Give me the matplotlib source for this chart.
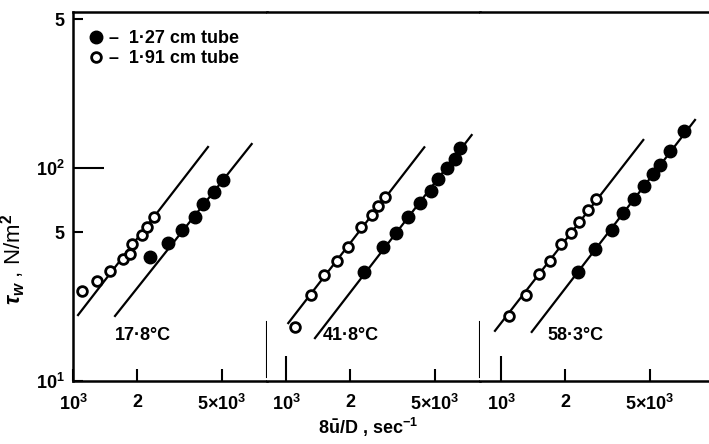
import matplotlib
matplotlib.use("Agg")
import matplotlib.pyplot as plt
from matplotlib.ticker import FixedLocator, FixedFormatter, NullLocator

plt.rcParams["font.family"] = ["Liberation Sans", "DejaVu Sans"]
plt.rcParams["font.weight"] = "bold"
plt.rcParams["mathtext.fontset"] = "custom"
plt.rcParams["mathtext.rm"] = "Liberation Sans:bold"
plt.rcParams["mathtext.it"] = "Liberation Sans:italic:bold"
plt.rcParams["mathtext.bf"] = "Liberation Sans:bold"

TEMPS = ["17·8°C", "41·8°C", "58·3°C"]

# 1.91 cm tube (open circles), one list per temperature
open_x = [
    [1105, 1290, 1490, 1710, 1850, 1900, 2110, 2230, 2410],
    [1100, 1310, 1510, 1730, 1960, 2240, 2540, 2700, 2920],
    [1094, 1310, 1500, 1700, 1910, 2120, 2330, 2570, 2790],
]
open_y = [
    [26.5, 29.5, 33.0, 37.2, 39.5, 44.2, 48.7, 52.8, 58.7],
    [18.0, 25.3, 31.5, 36.6, 42.7, 52.7, 60.2, 66.3, 73.3],
    [20.2, 25.3, 31.7, 36.6, 43.8, 49.7, 56.0, 63.5, 71.3],
]

# 1.27 cm tube (filled circles)
filled_x = [
    [2300, 2800, 3240, 3740, 4090, 4610, 5080],
    [2320, 2860, 3290, 3750, 4260, 4780, 5190, 5680, 6220, 6560],
    [2310, 2760, 3310, 3750, 4210, 4690, 5190, 5580, 6220, 7230],
]
filled_y = [
    [38.1, 44.3, 51.2, 58.7, 67.8, 77.4, 87.8],
    [32.6, 42.4, 49.7, 59.1, 68.3, 78.2, 88.8, 99.7, 110.2, 123.7],
    [32.6, 41.5, 51.2, 61.3, 71.3, 82.3, 93.4, 103.3, 120.6, 149.7],
]

# fitted straight lines (end points)
open_fit_x = [[1056, 4303], [1025, 4460], [937, 4656]]
open_fit_y = [[20.4, 125.5], [18.7, 125.1], [17.2, 135.4]]
filled_fit_x = [[1575, 6900], [1368, 7440], [1394, 8143]]
filled_fit_y = [[20.2, 129.6], [15.9, 142.8], [17.0, 168.1]]

x_ticks = [1000, 2000, 5000]
x_tick_labels = ["10$^3$", "2", "5×10$^3$"]
y_ticks = [10, 50, 100, 500]
y_tick_labels = ["10$^1$", "5", "10$^2$", "5"]

# panel x ranges and label anchors
x_limits = [(1000, 8143), (814.5, 8143), (797, 9473)]
label_x = [2132, 2019, 2248]
label_y = 16.3
y_limits = (10, 540)

fig = plt.figure(figsize=(7.09, 4.44), dpi=100)
bottom, height = 63 / 444, 369 / 444
lefts = [73, 267, 480]
widths = [194, 213, 229]
axes = [fig.add_axes([l / 709, bottom, w / 709, height]) for l, w in zip(lefts, widths)]

for i, ax in enumerate(axes):
    ax.set_xscale("log")
    ax.set_yscale("log")
    ax.set_xlim(*x_limits[i])
    ax.set_ylim(*y_limits)

    ax.plot(open_fit_x[i], open_fit_y[i], color="black", lw=1.6)
    ax.plot(filled_fit_x[i], filled_fit_y[i], color="black", lw=1.6)
    ax.plot(open_x[i], open_y[i], "o", ms=7, mfc="white", mec="black", mew=2.0,
            label="–  1·91 cm tube", zorder=3)
    ax.plot(filled_x[i], filled_y[i], "o", ms=9, color="black",
            label="–  1·27 cm tube", zorder=3)
    ax.text(label_x[i], label_y, TEMPS[i], ha="center", va="center", fontsize=13)

    ax.xaxis.set_major_locator(FixedLocator(x_ticks))
    ax.xaxis.set_major_formatter(FixedFormatter(x_tick_labels))
    ax.xaxis.set_minor_locator(NullLocator())
    ax.tick_params(axis="x", which="major", direction="in", length=9, width=1.5,
                   pad=9, labelsize=13, top=False)

    for side in ("left", "right", "top", "bottom"):
        ax.spines[side].set_linewidth(1.8)
    ax.spines["right"].set_visible(False)
    if i > 0:
        ax.spines["left"].set_visible(False)
        ax.tick_params(axis="y", which="both", left=False, labelleft=False)
        ax.xaxis.get_major_ticks()[0].tick1line.set_markersize(18)

    # separator between the panels
    if i < 2:
        ax.axvline(x_limits[i][1], ymin=0.011, ymax=0.16, color="black", lw=1.5,
                   clip_on=False)

ax1 = axes[0]
ax1.yaxis.set_major_locator(FixedLocator(y_ticks))
ax1.yaxis.set_major_formatter(FixedFormatter(y_tick_labels))
ax1.yaxis.set_minor_locator(NullLocator())
ax1.tick_params(axis="y", which="major", direction="in", length=7, width=1.5,
                pad=6, labelsize=13)
ax1.yaxis.get_major_ticks()[2].tick1line.set_markersize(22)
ax1.set_ylabel(r"$\tau_w$ , N/m$^2$", fontsize=16)
ax1.yaxis.set_label_coords(-0.23, 0.33)

handles, labels = ax1.get_legend_handles_labels()
ax1.legend(handles[::-1], labels[::-1], loc="upper left", frameon=False,
           fontsize=13, handletextpad=0.1, handlelength=1.2, labelspacing=0.15,
           borderaxespad=0.3, bbox_to_anchor=(0.0, 0.985))

fig.text(368 / 709, 1 - 427 / 444, r"8$\bar{\mathrm{u}}$/D , sec$^{-1}$",
         ha="center", va="center", fontsize=13)

fig.savefig("out.png", dpi=100)
